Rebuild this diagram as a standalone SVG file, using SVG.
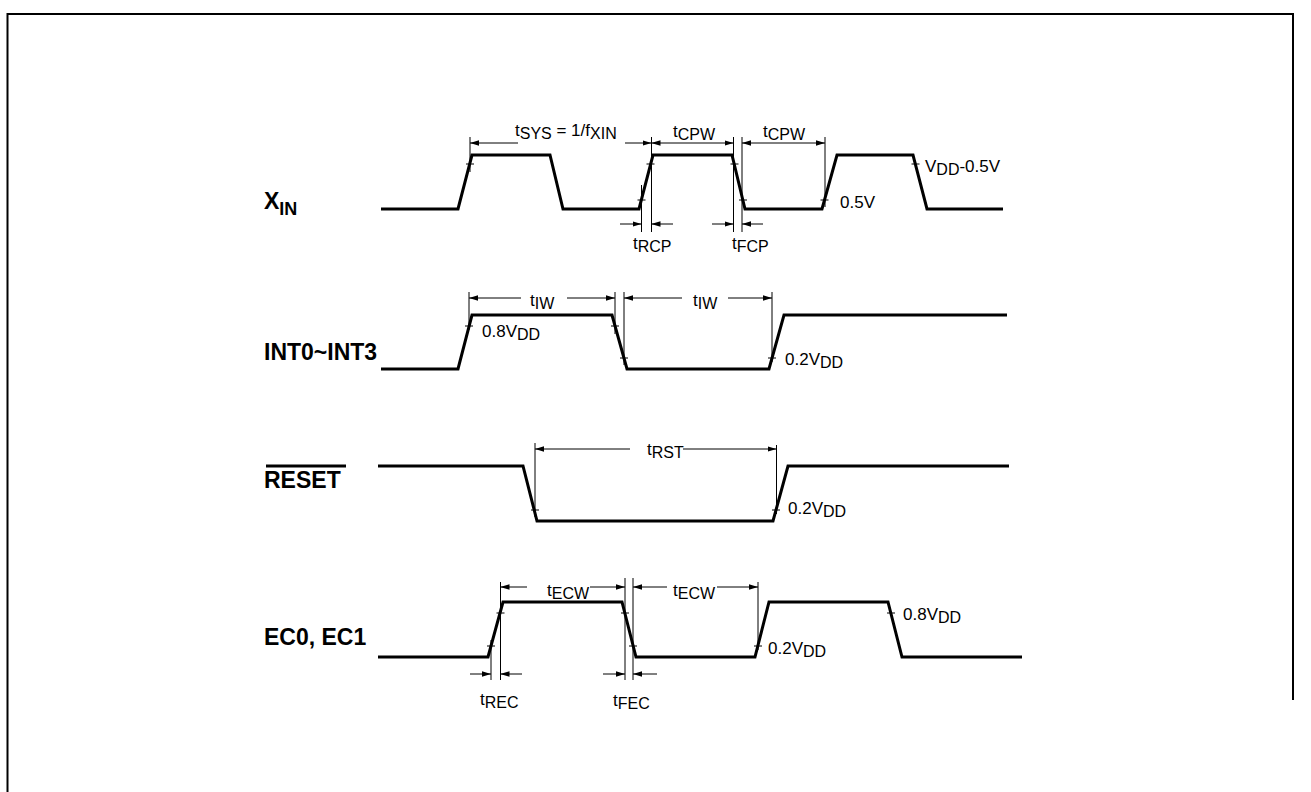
<svg xmlns="http://www.w3.org/2000/svg" width="1311" height="792" viewBox="0 0 1311 792">
<defs>
<marker id="ah" viewBox="0 0 10 6" refX="10" refY="3" markerWidth="9" markerHeight="6" markerUnits="userSpaceOnUse" orient="auto-start-reverse">
<path d="M0,0 L10,3 L0,6 z" fill="#000"/>
</marker>
<style>
.wave{fill:none;stroke:#000;stroke-width:3;stroke-linejoin:miter}
.bar{fill:none;stroke:#000;stroke-width:3}
.ext{fill:none;stroke:#000;stroke-width:1}
.dim{fill:none;stroke:#000;stroke-width:1;marker-end:url(#ah)}
.dim2{fill:none;stroke:#000;stroke-width:1;marker-end:url(#ah);marker-start:url(#ah)}
.tick{fill:none;stroke:#000;stroke-width:1}
.frame{fill:none;stroke:#000;stroke-width:2}
text{font-family:"Liberation Sans",Arial,Helvetica,sans-serif;fill:#000}
.t{font-size:17px}
.s{font-size:16px}
.lbl{font-size:23px;font-weight:bold}
.lsub{font-size:18px;font-weight:bold}
</style>
</defs>
<g id="frame">
<path class="frame" d="M7.5,792 V14 H1293 V700"/>
</g>

<g id="xin">
<text class="lbl" x="264" y="209">X<tspan class="lsub" dy="6">IN</tspan></text>
<path class="wave" d="M381,209 H458 L472,155 H550 L563,209 H639 L653,155 H732 L745,209 H822 L837,155 H913 L927,209 H1003"/>
<path class="tick" d="M466,164 h8 M637.5,200 h8 M646.5,164 h8 M730.5,164 h8 M739,200 h8 M820.5,200 h8 M911.5,164 h8"/>
<path class="ext" d="M470,137 V172 M641.5,185 V232 M651.5,137 V232 M733.5,137 V232 M742,137 V232 M825,137 V207"/>
<path class="dim" d="M518,143 H470"/>
<path class="dim" d="M625,143 H651.5"/>
<path class="dim2" d="M651.5,143 H733.5"/>
<path class="dim2" d="M742,143 H825"/>
<path class="dim" d="M620,224 H641.5"/>
<path class="dim" d="M673,224 H651.5"/>
<path class="dim" d="M712,224 H733.5"/>
<path class="dim" d="M763,224 H742"/>
<text class="t" x="515" y="136">t<tspan class="s" dy="3">SYS</tspan><tspan dy="-3"> = 1/f</tspan><tspan class="s" dy="3">XIN</tspan></text>
<text class="t" x="673" y="137">t<tspan class="s" dy="3">CPW</tspan></text>
<text class="t" x="763" y="137">t<tspan class="s" dy="3">CPW</tspan></text>
<text class="t" x="925" y="172">V<tspan class="s" dy="3">DD</tspan><tspan dy="-3">-0.5V</tspan></text>
<text class="t" x="840" y="208">0.5V</text>
<text class="t" x="633" y="249">t<tspan class="s" dy="3">RCP</tspan></text>
<text class="t" x="732" y="249">t<tspan class="s" dy="3">FCP</tspan></text>
</g>

<g id="int">
<text class="lbl" x="264" y="360">INT0~INT3</text>
<path class="wave" d="M381,369 H458 L472,315 H612 L627,369 H769 L784,315 H1007"/>
<path class="tick" d="M465,326 h8 M611,326 h8 M620,358 h8 M768,358 h8"/>
<path class="ext" d="M469,292 V330 M615,292 V334 M624,292 V365 M772,292 V362"/>
<path class="dim" d="M521,298 H469"/>
<path class="dim" d="M567,298 H615"/>
<path class="dim" d="M682,298 H624"/>
<path class="dim" d="M728,298 H772"/>
<text class="t" x="530" y="306">t<tspan class="s" dy="3">IW</tspan></text>
<text class="t" x="693" y="306">t<tspan class="s" dy="3">IW</tspan></text>
<text class="t" x="482" y="337">0.8V<tspan class="s" dy="3">DD</tspan></text>
<text class="t" x="785" y="365">0.2V<tspan class="s" dy="3">DD</tspan></text>
</g>

<g id="reset">
<text class="lbl" x="264" y="488">RESET</text>
<path class="bar" d="M266,466 H346"/>
<path class="wave" d="M378,466 H523 L537,521 H773 L788,466 H1009"/>
<path class="tick" d="M531,510 h8 M772,510 h8"/>
<path class="ext" d="M535,443 V517 M776.5,445 V514"/>
<path class="dim" d="M630,449 H535"/>
<path class="dim" d="M683,449 H776.5"/>
<text class="t" x="647" y="455">t<tspan class="s" dy="3">RST</tspan></text>
<text class="t" x="788" y="514">0.2V<tspan class="s" dy="3">DD</tspan></text>
</g>

<g id="ec">
<text class="lbl" x="264" y="645">EC0, EC1</text>
<path class="wave" d="M378,657 H488 L503,602 H622 L636,657 H755 L769,602 H888 L902,657 H1022"/>
<path class="tick" d="M487,646 h8 M496.5,613 h8 M621,613 h8 M629,646 h8 M754,646 h8 M887,613 h8"/>
<path class="ext" d="M491,640 V680 M500.5,582 V680 M625,578 V680 M633,578 V680 M758,582 V650"/>
<path class="dim" d="M527,587 H500.5"/>
<path class="dim" d="M590,587 H625"/>
<path class="dim" d="M667,587 H633"/>
<path class="dim" d="M717,587 H758"/>
<path class="dim" d="M470,674 H491"/>
<path class="dim" d="M522,674 H500.5"/>
<path class="dim" d="M603,674 H625"/>
<path class="dim" d="M657,674 H633"/>
<text class="t" x="547" y="596">t<tspan class="s" dy="3">ECW</tspan></text>
<text class="t" x="673" y="596">t<tspan class="s" dy="3">ECW</tspan></text>
<text class="t" x="480" y="705">t<tspan class="s" dy="3">REC</tspan></text>
<text class="t" x="613" y="706">t<tspan class="s" dy="3">FEC</tspan></text>
<text class="t" x="768" y="654">0.2V<tspan class="s" dy="3">DD</tspan></text>
<text class="t" x="903" y="620">0.8V<tspan class="s" dy="3">DD</tspan></text>
</g>
</svg>
